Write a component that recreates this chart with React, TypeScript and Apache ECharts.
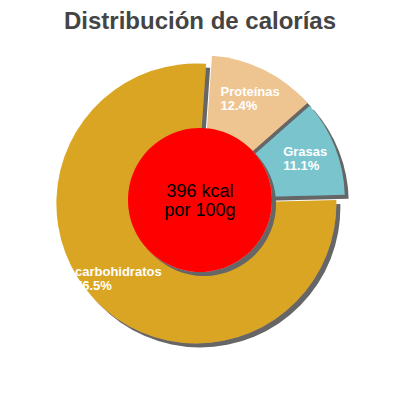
import React, { useEffect, useRef } from 'react';
import * as echarts from 'echarts';

const categories = ['Proteínas', 'Grasas', 'carbohidratos'];
const percents = [12.4, 11.1, 76.5];
const sliceColors = ['#EEC591', '#7AC5CD', '#DAA520'];
const centerLines = ['396 kcal', 'por 100g'];

const FONT = '"Liberation Sans", Arial, sans-serif';
const START = 4; // degrees clockwise from 12 o'clock

const shadow = {
  shadowColor: '#666666',
  shadowBlur: 0,
  shadowOffsetX: 4,
  shadowOffsetY: 4,
};

export default function App() {
  const chartRef = useRef<HTMLDivElement | null>(null);

  useEffect(() => {
    document.body.style.margin = '0';
    if (!chartRef.current) return;
    const chart = echarts.init(chartRef.current, null, { renderer: 'svg' });

    const common = {
      type: 'pie',
      center: ['50%', '50%'],
      startAngle: 90 - START,
      clockwise: true,
      selectedMode: 'multiple',
      selectedOffset: 5,
      silent: true,
      labelLine: { show: false },
    };

    const option = {
      animation: false,
      title: {
        text: 'Distribución de calorías',
        left: 'center',
        top: 3,
        textStyle: { fontFamily: FONT, fontSize: 24, fontWeight: 'bold', color: '#444444' },
      },
      series: [
        // slices
        {
          ...common,
          radius: [0, 140],
          z: 2,
          itemStyle: { ...shadow },
          label: { show: false },
          data: categories.map((name, i) => ({
            name,
            value: percents[i],
            selected: true,
            itemStyle: { color: sliceColors[i] },
          })),
        },
        // labels only, placed on the outer half of each slice
        {
          ...common,
          radius: [70, 140],
          z: 4,
          itemStyle: { color: 'rgba(0,0,0,0)' },
          label: {
            show: true,
            position: 'inside',
            formatter: (p: any) => `{a|${p.name}}\n{a|${p.value}%}`,
            rich: {
              a: {
                align: 'left',
                color: '#ffffff',
                fontFamily: FONT,
                fontSize: 13,
                fontWeight: 'bold',
                lineHeight: 14,
              },
            },
          },
          data: categories.map((name, i) => ({ name, value: percents[i], selected: true })),
        },
        // red centre disc
        {
          type: 'pie',
          center: ['50%', '50%'],
          radius: [0, 72],
          z: 3,
          silent: true,
          itemStyle: { color: '#ff0000', ...shadow },
          label: {
            show: true,
            position: 'center',
            formatter: centerLines.join('\n'),
            color: '#000000',
            fontFamily: FONT,
            fontSize: 18,
            lineHeight: 19,
          },
          labelLine: { show: false },
          data: [{ name: centerLines[0], value: 1 }],
        },
      ],
    };

    chart.setOption(option);
    return () => {
      chart.dispose();
    };
  }, []);

  return <div ref={chartRef} style={{ width: '400px', height: '400px' }}></div>;
}
